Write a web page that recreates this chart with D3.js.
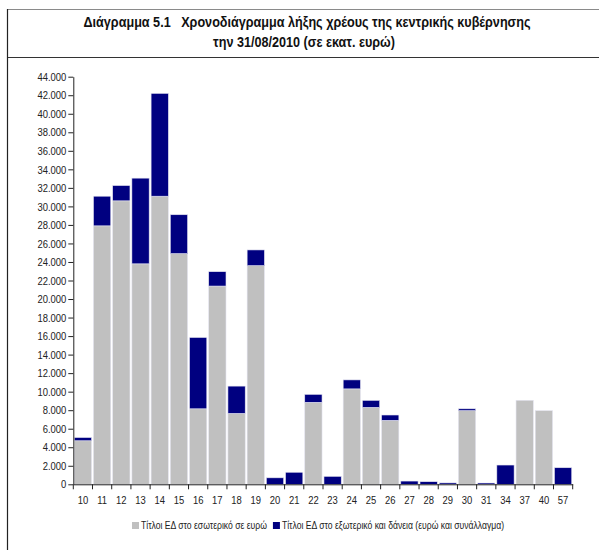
<!DOCTYPE html>
<html>
<head>
<meta charset="utf-8">
<script src="https://cdn.jsdelivr.net/npm/d3@7"></script>
<style>
  body { margin: 0; background: #fff; }
  svg { display: block; font-family: "Liberation Sans", Arial, sans-serif; }
</style>
</head>
<body>
<svg id="chart"></svg>
<script>
// maturity years (20xx)
const categories = ["10","11","12","13","14","15","16","17","18","19","20","21","22","23","24","25","26","27","28","29","30","31","34","37","40","57"]
// domestic bonds in euro (mn)
const domestic = [4700, 27900, 30600, 23800, 31100, 24900, 8150, 21400, 7650, 23600, 0, 0, 8850, 0, 10300, 8300, 6900, 0, 0, 0, 7950, 0, 0, 9070, 7950, 0]
// foreign bonds and loans (mn)
const foreign = [350, 3200, 1650, 9250, 11100, 4200, 7700, 1550, 2950, 1700, 700, 1300, 860, 860, 970, 760, 580, 350, 280, 150, 200, 140, 2080, 0, 0, 1790]
const yTicks = d3.range(0, 44001, 2000)
const seriesNames = ["Τίτλοι ΕΔ στο εσωτερικό σε ευρώ", "Τίτλοι ΕΔ στο εξωτερικό και δάνεια (ευρώ και συνάλλαγμα)"]
const colors = ["#c0c0c0", "#000080"]

const width = 599, height = 550
const margin = {top: 76.7, right: 26.3, bottom: 65.7, left: 73.3}

// no Arial Narrow here, so squeeze Liberation Sans horizontally
function narrow(sel, k = 0.82) {
  sel.each(function() {
    const len = this.getComputedTextLength()
    d3.select(this).attr("textLength", len * k).attr("lengthAdjust", "spacingAndGlyphs")
  })
}

const svg = d3.select("#chart").attr("width", width).attr("height", height)

// frame
svg.append("line").attr("x1", 7).attr("x2", width).attr("y1", 9.5).attr("y2", 9.5)
  .attr("stroke", "#8a8a8a").attr("stroke-width", 1)
svg.append("line").attr("x1", 7).attr("x2", width).attr("y1", 57.5).attr("y2", 57.5)
  .attr("stroke", "#333").attr("stroke-width", 1)
svg.append("line").attr("x1", 7.5).attr("x2", 7.5).attr("y1", 9).attr("y2", height)
  .attr("stroke", "#222").attr("stroke-width", 1.2)

// title
const title = svg.append("g").attr("font-weight", "bold").attr("font-size", 15.4)
  .attr("fill", "#111").attr("text-anchor", "middle")
title.append("text").attr("x", 307).attr("y", 27)
  .text("Διάγραμμα 5.1\u00a0\u00a0\u00a0Χρονοδιάγραμμα λήξης χρέους της κεντρικής κυβέρνησης")
title.append("text").attr("x", 304).attr("y", 47).text("την 31/08/2010 (σε εκατ. ευρώ)")
narrow(title.selectAll("text"))

const x = d3.scaleBand()
  .domain(categories)
  .range([margin.left, width - margin.right])
  .paddingInner(0.1)
  .paddingOuter(0.05)

const y = d3.scaleLinear()
  .domain([0, 44000])
  .range([height - margin.bottom, margin.top])

const rows = categories.map((c, i) => ({cat: c, domestic: domestic[i], foreign: foreign[i]}))
const stacked = d3.stack().keys(["domestic", "foreign"])(rows)

svg.append("g")
  .selectAll("g")
  .data(stacked)
  .join("g")
    .attr("fill", (d, i) => colors[i])
  .selectAll("rect")
  .data(d => d.filter(p => p[1] - p[0] > 0))
  .join("rect")
    .attr("x", d => x(d.data.cat))
    .attr("width", x.bandwidth())
    .attr("y", d => y(d[1]))
    .attr("height", d => y(d[0]) - y(d[1]))
    .attr("stroke", "#e4e4f0")
    .attr("stroke-width", 0.6)

const fmt = d3.formatLocale({decimal: ",", thousands: ".", grouping: [3], currency: ["", "€"]}).format(",d")

// y axis
svg.append("g")
  .attr("transform", `translate(${margin.left},0)`)
  .call(d3.axisLeft(y).tickValues(yTicks).tickFormat(fmt).tickSize(5).tickSizeOuter(0))
  .call(g => g.select(".domain").attr("stroke", "#222"))
  .call(g => g.selectAll(".tick line").attr("stroke", "#222"))
  .call(g => g.selectAll(".tick text").attr("font-size", 11.5).attr("fill", "#222").attr("x", -7)
      .attr("font-family", "Liberation Sans, Arial, sans-serif"))
  .call(g => narrow(g.selectAll(".tick text")))

// x axis: labels centred, tick marks on band boundaries
const gx = svg.append("g")
  .attr("transform", `translate(0,${height - margin.bottom})`)
  .call(d3.axisBottom(x).tickSize(0).tickPadding(12))
  .call(g => g.select(".domain").attr("stroke", "#222"))
  .call(g => g.selectAll(".tick text").attr("font-size", 11.5).attr("fill", "#222")
      .attr("font-family", "Liberation Sans, Arial, sans-serif"))
  .call(g => narrow(g.selectAll(".tick text")))

const half = x.step() * x.paddingInner() / 2
const bounds = categories.map(c => x(c) - half).concat([x(categories[categories.length - 1]) + x.bandwidth() + half])
gx.selectAll("line.bound")
  .data(bounds)
  .join("line")
    .attr("class", "bound")
    .attr("x1", d => d).attr("x2", d => d)
    .attr("y1", 0).attr("y2", 5)
    .attr("stroke", "#222")

// legend
const legend = svg.append("g").attr("transform", "translate(132,526)")
  .attr("font-size", 10.5).attr("fill", "#222")
let lx = 0
seriesNames.forEach((name, i) => {
  const item = legend.append("g").attr("transform", `translate(${lx},0)`)
  item.append("rect").attr("x", 0).attr("y", -4).attr("width", 7).attr("height", 7).attr("fill", colors[i])
  const t = item.append("text").attr("x", 9).attr("y", 3).text(name)
  narrow(t)
  lx += 9 + +t.attr("textLength") + 6
})
</script>
</body>
</html>
